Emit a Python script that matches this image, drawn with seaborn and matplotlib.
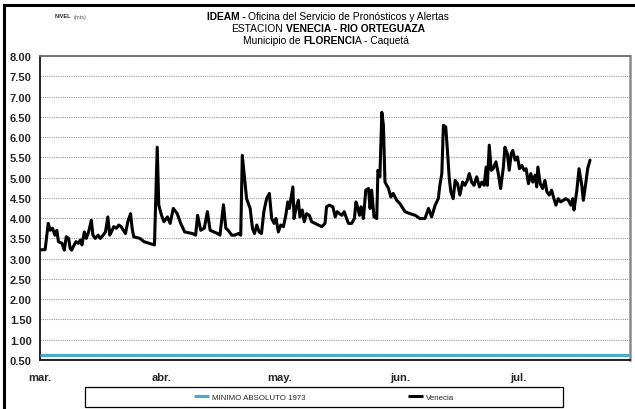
import numpy as np
import pandas as pd
import matplotlib
matplotlib.use("Agg")
import matplotlib.pyplot as plt
import matplotlib.dates as mdates
from matplotlib import font_manager
from matplotlib.patches import Rectangle
from matplotlib.ticker import FuncFormatter, MultipleLocator
import seaborn as sns

# ---------------- data ----------------
fecha_inicio = "2011-03-01"
# days since 1 March
dias = [0.0, 1.3, 2.1, 2.6, 3.2, 3.8, 4.3, 4.7, 5.6, 6.2, 6.7, 7.3, 7.7, 8.1, 8.5,
        9.2, 9.8, 10.3, 10.7, 11.3, 11.8, 12.4, 13.1, 13.5, 14.1, 14.8, 15.4, 16.1,
        16.7, 17.3, 17.8, 18.4, 18.8, 19.5, 20.1, 20.7, 21.8, 22.4, 23.1, 23.5, 23.9,
        25.5, 26.5, 27.8, 29.2, 29.9, 30.3, 31.0, 31.6, 32.5, 33.2, 34.0, 35.0, 35.9,
        36.9, 38.9, 39.7, 40.2, 41.0, 41.9, 42.7, 43.4, 45.3,
        45.9, 46.8, 47.4, 48.0, 48.9, 49.7, 50.6, 51.2, 51.6, 52.1, 52.7, 53.6, 54.2,
        54.7, 55.3, 55.9, 56.5, 57.1, 57.8, 58.5, 59.1, 59.7, 60.2, 60.8, 61.4, 62.1,
        62.7, 63.2, 63.6, 64.0, 64.5, 64.8, 65.3, 65.9, 66.3, 66.9, 67.4, 68.0, 68.7,
        69.3, 70.2, 71.0, 71.9, 72.7, 73.1, 73.8, 74.7, 75.3, 75.8, 76.4, 77.0, 77.6,
        78.2, 78.7, 79.5, 80.2, 80.6, 81.0, 81.5, 81.9, 82.5, 83.1, 83.8, 84.2, 84.6,
        85.2, 85.9, 86.2, 86.7, 87.2, 87.6, 88.0, 88.9, 89.5, 90.1, 91.0,
        91.8, 93.1, 94.4, 95.7, 96.9, 98.2, 99.1, 99.9, 100.8, 101.6, 102.0, 102.5,
        102.9, 103.5, 103.9, 104.4, 104.8, 105.4, 105.9, 106.5, 107.1, 107.8, 108.4,
        109.0, 109.5, 110.1, 110.7, 111.4, 112.1, 112.7, 113.3, 113.8, 114.1, 114.6,
        115.1, 115.6, 116.3, 116.9, 117.5, 118.2, 118.6, 119.2, 119.7, 120.2, 120.6,
        121.2, 121.8, 122.3, 122.9, 123.5, 124.0, 124.6, 125.2, 125.7, 126.3, 126.7,
        127.0, 127.6, 128.2, 128.8, 129.3, 129.9, 130.5, 131.1, 131.6, 132.2, 132.8,
        133.5, 134.1, 134.8, 135.4, 135.9, 136.2, 136.9, 137.5, 138.2, 138.6, 139.2,
        139.7, 140.3]
nivel = [3.22, 3.22, 3.87, 3.70, 3.75, 3.58, 3.70, 3.42, 3.38, 3.21, 3.54, 3.50, 3.25, 3.21, 3.30,
         3.42, 3.38, 3.46, 3.34, 3.66, 3.50, 3.66, 3.95, 3.58, 3.50, 3.58, 3.50, 3.58,
         3.66, 4.03, 3.58, 3.70, 3.79, 3.75, 3.83, 3.79, 3.62, 3.91, 4.11, 3.75, 3.54,
         3.50, 3.42, 3.38, 3.34, 5.75, 4.32, 4.07, 3.91, 4.03, 3.87, 4.24, 4.11, 3.87,
         3.66, 3.62, 3.58, 4.07, 3.70, 3.75, 4.16, 3.70, 3.62,
         3.58, 4.33, 3.75, 3.70, 3.58, 3.58, 3.62, 3.58, 5.55, 5.06, 4.48, 4.24, 3.75,
         3.62, 3.83, 3.66, 3.62, 4.16, 4.48, 4.61, 3.99, 3.87, 3.99, 3.66, 3.83, 3.79,
         4.07, 4.40, 4.24, 4.48, 4.77, 3.99, 4.24, 4.44, 4.03, 4.20, 3.91, 4.11, 4.07,
         3.91, 3.87, 3.83, 3.79, 3.87, 4.28, 4.32, 4.28, 4.03, 4.16, 4.11, 4.07, 4.16,
         3.99, 3.87, 3.87, 3.99, 4.40, 4.28, 4.07, 4.28, 3.99, 4.69, 4.73, 4.24, 4.69,
         4.03, 3.99, 5.18, 5.02, 6.61, 6.29, 4.89, 4.73, 4.52, 4.61, 4.44,
         4.36, 4.16, 4.11, 4.07, 3.99, 3.99, 4.24, 4.03, 4.32, 4.48, 4.81, 5.10,
         6.29, 6.25, 5.71, 4.98, 4.65, 4.48, 4.93, 4.85, 4.57, 4.89, 4.81,
         4.93, 5.10, 4.89, 4.81, 5.02, 4.77, 4.89, 4.81, 5.26, 4.81, 5.80,
         5.18, 5.22, 5.39, 5.10, 4.73, 5.26, 5.75, 5.59, 5.18, 5.59, 5.67,
         5.43, 5.51, 5.22, 5.30, 5.18, 5.22, 4.85, 5.10, 4.89, 5.06, 4.77,
         5.26, 4.85, 4.73, 4.93, 4.65, 4.57, 4.69, 4.48, 4.32, 4.48, 4.40,
         4.44, 4.48, 4.44, 4.32, 4.48, 4.20, 4.65, 5.22, 4.81, 4.44, 4.85,
         5.22, 5.43]
minimo_absoluto_1973 = 0.62
dias_eje = 150.5            # x-axis extent in days from 1 March
meses = {3: "mar.", 4: "abr.", 5: "may.", 6: "jun.", 7: "jul."}
serie_label = "Venecia"
minimo_label = "MINIMO ABSOLUTO 1973"
titulo = [
    [("IDEAM -", True), ("Oficina del Servicio de Pronósticos y Alertas", False)],
    [("ESTACION", False), ("VENECIA - RIO ORTEGUAZA", True)],
    [("Municipio de", False), ("FLORENCI|", True), ("A - Caquetá", False)],
]

# ---------------- fonts ----------------
def has_font(name):
    try:
        font_manager.findfont(font_manager.FontProperties(family=name),
                              fallback_to_default=False)
        return True
    except Exception:
        return False

HAS_NARROW = has_font("Liberation Sans Narrow")
NARROW = "Liberation Sans Narrow" if HAS_NARROW else "Liberation Sans"
NSCALE = 1.0 if HAS_NARROW else 0.84

sns.set_style("white")
plt.rcParams["font.family"] = ["Liberation Sans", "DejaVu Sans"]

df = pd.DataFrame({
    "fecha": pd.Timestamp(fecha_inicio) + pd.to_timedelta(dias, unit="D"),
    "nivel": nivel,
})

W, H = 635, 410
fig = plt.figure(figsize=(W / 100, H / 100), dpi=100)
L, R, T, B = 40, 630, 57, 361
ax = fig.add_axes([L / W, 1 - B / H, (R - L) / W, (B - T) / H])

ax.axhline(minimo_absoluto_1973, color="#4BACC6", lw=2.3, label=minimo_label,
           solid_capstyle="butt", zorder=3)
sns.lineplot(data=df, x="fecha", y="nivel", color="black", lw=2.2,
             estimator=None, errorbar=None, sort=True, label=serie_label, ax=ax,
             zorder=4)
for ln in ax.get_lines():
    ln.set_solid_joinstyle("round")
if ax.get_legend() is not None:
    ax.get_legend().remove()

x0 = pd.Timestamp(fecha_inicio)
ax.set_xlim(x0, x0 + pd.Timedelta(days=dias_eje))
ax.set_ylim(0.5, 8.0)
ax.yaxis.set_major_locator(MultipleLocator(0.5))
ax.yaxis.set_major_formatter(FuncFormatter(lambda v, p: f"{v:.2f}"))
ax.xaxis.set_major_locator(mdates.MonthLocator())
ax.xaxis.set_major_formatter(FuncFormatter(lambda v, p: meses.get(mdates.num2date(v).month, "")))
ax.set_xlabel("")
ax.set_ylabel("")

ax.grid(False)
ax.yaxis.grid(True, linestyle=(0, (1, 1)), color="#9a9a9a", lw=0.8)
ax.set_axisbelow(True)

for s in ["left", "bottom"]:
    ax.spines[s].set_color("#111111")
    ax.spines[s].set_linewidth(1.3)
ax.spines["top"].set_color("#6a6a6a")
ax.spines["top"].set_linewidth(1.3)
ax.spines["right"].set_color("#8a8a8a")
ax.spines["right"].set_linewidth(1.8)

ax.tick_params(axis="y", direction="out", length=3, width=0.8, color="#333333",
               pad=3, labelsize=8)
ax.tick_params(axis="x", direction="out", length=3, width=0.8, color="#333333",
               pad=6, labelsize=8)
for lab in ax.get_yticklabels() + ax.get_xticklabels():
    lab.set_fontweight("bold")
    lab.set_family(["Liberation Sans", "DejaVu Sans"])

# ---------------- title (mixed bold) ----------------
fig.canvas.draw()
renderer = fig.canvas.get_renderer()

def text_width(s, size, weight, family):
    t = fig.text(0, 0, s, fontsize=size, fontweight=weight, family=family)
    w = t.get_window_extent(renderer).width
    t.remove()
    return w

def rich_line(xc_px, y_px, segments, size, family, color="black"):
    space = text_width("I I", size, "normal", family) - text_width("II", size, "normal", family)
    items = []
    for s, bold in segments:
        glue = not s.endswith("|")
        s = s.rstrip("|")
        wgt = "bold" if bold else "normal"
        t = fig.text(0, 1 - y_px / H, s, fontsize=size, fontweight=wgt, family=family,
                     ha="left", va="center", color=color)
        items.append((t, t.get_window_extent(renderer).width, glue))
    total = sum(w for _, w, _ in items) + sum(space for _, _, g in items[:-1] if g)
    x = xc_px - total / 2
    for i, (t, w, g) in enumerate(items):
        t.set_x(x / W)
        x += w + (space if (g and i < len(items) - 1) else 0)

tsize = 8.8 * NSCALE
rich_line(328, 17, titulo[0], tsize, NARROW)
rich_line(328, 29, titulo[1], tsize, NARROW)
rich_line(326, 41, titulo[2], tsize, NARROW)

# NIVEL (mts)
t1 = fig.text(55 / W, 1 - 17 / H, "NIVEL", fontsize=4.8 * NSCALE, fontweight="bold",
              family=NARROW, ha="left", va="center")
w1 = t1.get_window_extent(renderer).width
fig.text((55 + w1 + 2) / W, 1 - 17 / H, "(mts)", fontsize=4.8 * NSCALE,
         family=NARROW, ha="left", va="center", color="#555555")

# ---------------- legend ----------------
handles, labels = ax.get_legend_handles_labels()
fsize = 6.8 * NSCALE
fpx = fsize * 100 / 72
leg = fig.legend(handles, labels, loc="center", bbox_to_anchor=(324 / W, 1 - 398 / H),
                 ncol=2, frameon=False, prop={"family": NARROW, "size": fsize},
                 handlelength=15 / fpx, handletextpad=0.35,
                 columnspacing=102 / fpx, borderpad=0.0)
for lh in leg.get_lines():
    lh.set_solid_capstyle("butt")
fig.add_artist(Rectangle((85 / W, 1 - 408 / H), (563 - 85) / W, 20 / H,
                         transform=fig.transFigure, fill=False, edgecolor="black",
                         lw=0.9))

# outer frame (top and left edges visible)
fig.add_artist(Rectangle((4 / W, -0.2), 1.5, 1.2 - 6 / H, transform=fig.transFigure,
                         fill=False, edgecolor="black", lw=2.2, clip_on=False))

fig.savefig("out.png", dpi=100)
